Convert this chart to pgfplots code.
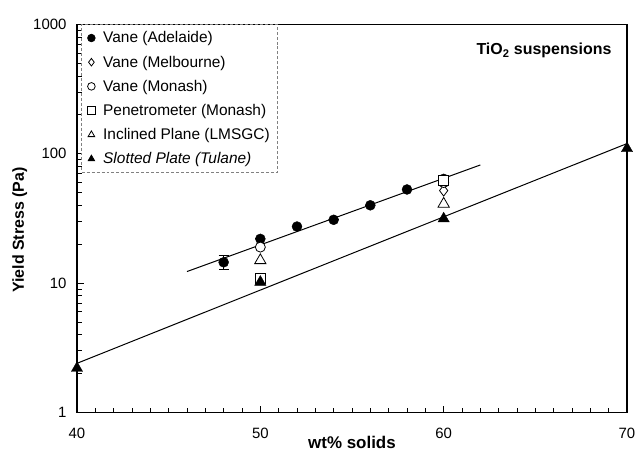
\documentclass[border=0pt]{standalone}
\usepackage{fontspec}
\setmainfont{Liberation Sans}
\usepackage{pgfplots}
\pgfplotsset{compat=1.18}

\begin{document}
\begin{tikzpicture}
\useasboundingbox (-77bp,-42.5bp) rectangle (561bp,412.5bp);
\begin{axis}[
  scale only axis, width=550bp, height=388bp,
  xmin=40, xmax=70,
  ymode=log, ymin=1, ymax=1000,
  xtick={40,50,60,70}, xticklabels={40,50,60,70},
  minor x tick num=9,
  ytick={1,10,100,1000}, yticklabels={1,10,100,1000},
  tick pos=left, tick align=inside,
  major tick length=7bp, minor tick length=5bp,
  tick style={black, line width=0.8pt},
  minor tick style={black, line width=0.8pt},
  axis line style={line width=1.2pt},
  /pgf/number format/assume math mode=true,
  tick label style={font=\fontsize{15}{17}\selectfont},
  xticklabel style={yshift=-12bp},
  yticklabel style={xshift=-7bp},
  xlabel={\bfseries wt\% solids},
  ylabel={\bfseries Yield Stress (Pa)},
  label style={font=\fontsize{17}{19}\selectfont},
  xlabel style={at={(axis description cs:0.5,-0.078)}, anchor=center},
  ylabel style={at={(axis description cs:-0.104,0.47)}, anchor=center,
    font=\fontsize{16}{18}\selectfont},
  legend style={at={(rel axis cs:0.008,1)}, anchor=north west,
    draw=gray, densely dashed, line width=0.4pt,
    font=\fontsize{15.5}{17.5}\selectfont, row sep=7.5bp, column sep=6bp,
    inner xsep=6bp, inner ysep=5bp},
  legend cell align=left,
  legend image code/.code={%
    \draw[#1, mark size=3.8bp, solid, line width=0.7pt] plot coordinates {(0cm,0cm)};},
]
% fitted lines
\addplot[black, line width=1pt, forget plot] coordinates {(46,12.3)(62,82)};
\addplot[black, line width=1pt, forget plot] coordinates {(40,2.4)(70,120)};

% Vane (Adelaide)
\addplot[only marks, mark=*, mark size=5bp, black,
  error bars/.cd, y dir=both, y explicit,
  error mark options={rotate=90, mark size=5bp, line width=0.8pt},
  error bar style={line width=0.8pt}]
  coordinates {
  (48,14.5) +- (0,1.8)
  (50,22) +- (0,0)
  (52,27.4) +- (0,0)
  (54,30.9) +- (0,0)
  (56,40) +- (0,0)
  (58,53) +- (0,0)
  (60,64) +- (0,0)
};
\addlegendentry{Vane (Adelaide)}
% Vane (Melbourne)
\addplot[only marks, mark=diamond*, mark size=5.5bp, black,
  mark options={fill=white, line width=0.8pt}]
  coordinates {(60,52)};
\addlegendentry{Vane (Melbourne)}
% Vane (Monash)
\addplot[only marks, mark=*, mark size=5bp, black,
  mark options={fill=white, line width=0.8pt}]
  coordinates {(50,19)(60,60)};
\addlegendentry{Vane (Monash)}
% Penetrometer (Monash)
\addplot[only marks, mark=square*, mark size=5bp, black,
  mark options={fill=white, line width=0.8pt}]
  coordinates {(50,10.8)(60,62)};
\addlegendentry{Penetrometer (Monash)}
% Inclined Plane (LMSGC)
\addplot[only marks, mark=triangle*, mark size=6.5bp, black,
  mark options={fill=white, line width=0.8pt}]
  coordinates {(50,15)(60,41)};
\addlegendentry{Inclined Plane (LMSGC)}
% Slotted Plate (Tulane)
\addplot[only marks, mark=triangle*, mark size=6.5bp, black]
  coordinates {(40,2.2)(50,10.2)(60,31.5)(70,110)};
\addlegendentry{\itshape Slotted Plate (Tulane)}

\node[anchor=east, font=\bfseries\fontsize{16}{18}\selectfont]
  at (rel axis cs:0.978,0.933) {TiO\textsubscript{2} suspensions};
\end{axis}
\end{tikzpicture}
\end{document}
